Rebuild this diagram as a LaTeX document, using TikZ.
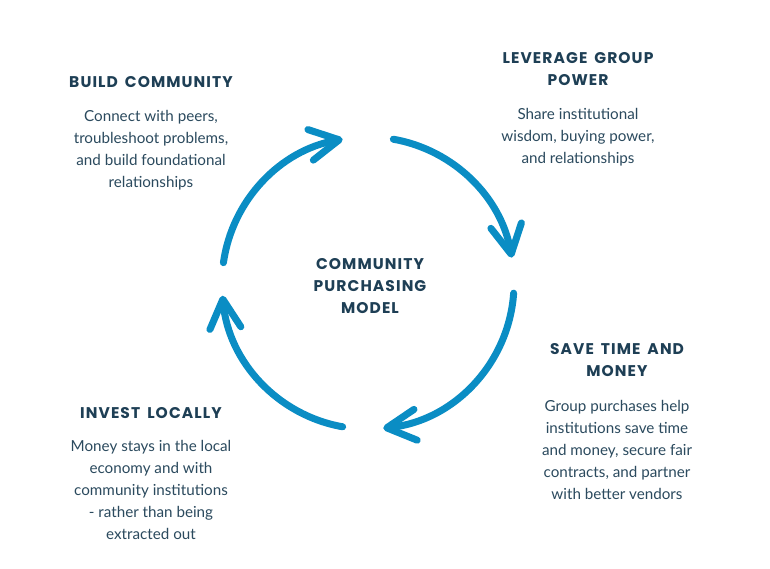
\documentclass[tikz,border=0pt]{standalone}
\usepackage{fontspec}
\setmainfont{Lato}
\newfontfamily\headfont[LetterSpace=7,WordSpace=1.6]{Poppins Bold}
\usetikzlibrary{arrows.meta}
\definecolor{arcblue}{HTML}{0A8DC4}
\definecolor{navy}{HTML}{1E3F55}
\definecolor{bodytext}{HTML}{2B4A5E}
\tikzset{
  cyclearc/.style={draw=arcblue, line width=7pt, line cap=round,
    -{Straight Barb[length=29pt,width=31pt,round]}},
  headtext/.style={text=navy, align=center, font=\headfont\fontsize{15.5}{22}\selectfont, inner sep=0pt},
  bodytxt/.style={text=bodytext, align=center, font=\fontsize{15.2}{22}\selectfont, inner sep=0pt},
}
\begin{document}
\begin{tikzpicture}[x=1pt,y=1pt]
\fill[white] (0,0) rectangle (770,568);
\useasboundingbox (0,0) rectangle (770,568);
\coordinate (c) at (368,285);
% arcs
\draw[cyclearc] (c) ++(172:146) arc[start angle=172, end angle=100, radius=146] coordinate (e1);
\draw[cyclearc] (c) ++(80:146) arc[start angle=80, end angle=10, radius=146] coordinate (e2);
\draw[cyclearc] (c) ++(-4:146) arc[start angle=-4, end angle=-84, radius=146] coordinate (e3);
\draw[cyclearc] (c) ++(-100:146) arc[start angle=-100, end angle=-175, radius=146] coordinate (e4);
% centre
\node[headtext] (centre) at (370,282) {COMMUNITY\\PURCHASING\\MODEL};
% build community
\node[headtext] (h1) at (151,486) {BUILD COMMUNITY};
\node[bodytxt, anchor=north] (b1) at (151,458) {Connect with peers,\\troubleshoot problems,\\and build foundational\\relationships};
% leverage
\node[headtext] (h2) at (578,499) {LEVERAGE GROUP\\POWER};
\node[bodytxt, anchor=north] (b2) at (578,460) {Share institutional\\wisdom, buying power,\\and relationships};
% save
\node[headtext] (h3) at (617,208) {SAVE TIME AND\\MONEY};
\node[bodytxt, anchor=north] (b3) at (617,168) {Group purchases help\\institutions save time\\and money, secure fair\\contracts, and partner\\with better vendors};
% invest
\node[headtext] (h4) at (151,155) {INVEST LOCALLY};
\node[bodytxt, anchor=north] (b4) at (151,128) {Money stays in the local\\economy and with\\community institutions\\- rather than being\\extracted out};
\end{tikzpicture}
\end{document}
